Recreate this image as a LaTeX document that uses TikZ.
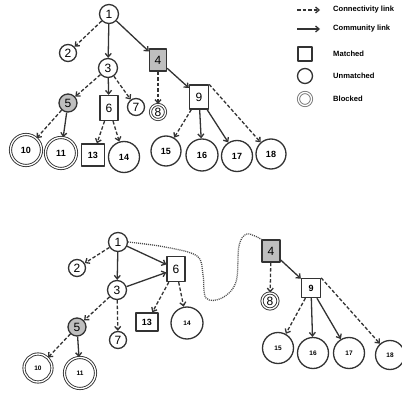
\documentclass[tikz,border=0pt]{standalone}
\usepackage{fontspec}
\setmainfont{Liberation Sans}
\usetikzlibrary{arrows.meta}

\tikzset{
  unm/.style={circle, draw=black!80, line width=1.3pt, inner sep=0pt, font=\fontsize{12}{12}\selectfont},
  mat/.style={rectangle, draw=black!80, line width=1.3pt, inner sep=0pt, font=\fontsize{12}{12}\selectfont},
  blk/.style={unm, line width=0.9pt, double, double distance=1.3pt},
  grey/.style={fill=black!25},
  num/.style={font=\fontsize{9}{9}\selectfont\bfseries},
  small/.style={font=\fontsize{6.5}{6.5}\selectfont\bfseries},
  conn/.style={draw=black!80, line width=1.3pt, dash pattern=on 3.5pt off 2pt, -{Straight Barb[length=3.5pt,width=6pt]}},
  comm/.style={draw=black!80, line width=1.3pt, -{Straight Barb[length=3.5pt,width=6pt]}},
  dotlink/.style={draw=black!70, line width=1.3pt, dash pattern=on 1pt off 1pt},
  legtext/.style={anchor=west, inner sep=0pt, font=\fontsize{7.6}{7.6}\selectfont\bfseries}
}

\begin{document}
\begin{tikzpicture}[x=1pt, y=-1pt, line join=round]
  \useasboundingbox (0,0) rectangle (402,393);

  % Legend
  \coordinate (la) at (297,10);
  \coordinate (lb) at (320,10);
  \coordinate (lc) at (297,29);
  \coordinate (ld) at (320,29);
  \draw[conn] (la) -- (lb);
  \draw[comm] (lc) -- (ld);
  \node (lmat) [mat, minimum width=14, minimum height=14] at (305,54) {};
  \node (lunm) [unm, minimum size=15] at (305,76) {};
  \node (lblk) [blk, minimum size=13, draw=black!55] at (305,99) {};
  \node (tconn) [legtext] at (333,10) {Connectivity link};
  \node (tcomm) [legtext] at (333,29) {Community link};
  \node (tmat) [legtext] at (333,54) {Matched};
  \node (tunm) [legtext] at (333,76) {Unmatched};
  \node (tblk) [legtext] at (333,99) {Blocked};

  % Upper tree: nodes
  \node (t1) [unm, minimum size=19] at (109,14) {1};
  \node (t2) [unm, minimum size=17] at (68,53) {2};
  \node (t3) [unm, minimum size=19] at (108,68) {3};
  \node (t4) [mat, grey, minimum width=17, minimum height=22] at (158,60) {4};
  \node (t5) [unm, grey, minimum size=18] at (68,103) {5};
  \node (t6) [mat, minimum width=18, minimum height=25] at (109,108) {6};
  \node (t7) [unm, minimum size=17] at (136,107) {7};
  \node (t8) [blk, minimum size=15] at (158,112) {8};
  \node (t9) [mat, minimum width=19, minimum height=24] at (199,97) {9};
  \node (t10) [blk, num, minimum size=31] at (26,150) {10};
  \node (t11) [blk, num, minimum size=31] at (61,153) {11};
  \node (t13) [mat, num, minimum width=23, minimum height=22] at (93,155) {13};
  \node (t14) [unm, num, minimum size=31] at (124,157) {14};
  \node (t15) [unm, num, minimum size=30] at (166,151) {15};
  \node (t16) [unm, num, minimum size=32] at (202,155) {16};
  \node (t17) [unm, num, minimum size=31] at (237,156) {17};
  \node (t18) [unm, num, minimum size=30] at (271,154) {18};

  % Upper tree: edges
  \draw[conn] (t1) -- (t2);
  \draw[comm] (t1) -- (t3);
  \draw[comm] (t1) -- (t4);
  \draw[conn] (t3) -- (t5);
  \draw[comm] (t3) -- (t6);
  \draw[conn] (t3) -- (t7);
  \draw[conn] (t4) -- (t8);
  \draw[comm] (t4) -- (t9);
  \draw[conn] (t5) -- (t10);
  \draw[comm] (t5) -- (t11);
  \draw[conn] (t6) -- (t13);
  \draw[conn] (t6) -- (t14);
  \draw[conn] (t9) -- (t15);
  \draw[comm] (t9) -- (t16);
  \draw[comm] (t9) -- (t17);
  \draw[conn] (t9.north east) -- (t18);

  % Lower graph: nodes
  \node (b1) [unm, minimum size=19] at (118,242) {1};
  \node (b2) [unm, minimum size=17] at (77,268) {2};
  \node (b3) [unm, minimum size=19] at (117,290) {3};
  \node (b6) [mat, minimum width=18, minimum height=25] at (176,269) {6};
  \node (b13) [mat, num, minimum width=22, minimum height=18] at (147,322) {13};
  \node (b14) [unm, small, minimum size=32] at (187,323) {14};
  \node (b5) [unm, grey, minimum size=18] at (77,327) {5};
  \node (b7) [unm, minimum size=17] at (118,340) {7};
  \node (b10) [blk, small, minimum size=28] at (38,368) {10};
  \node (b11) [blk, small, minimum size=31] at (80,373) {11};
  \node (b4) [mat, grey, minimum width=18, minimum height=22] at (271,251) {4};
  \node (b8) [blk, minimum size=16] at (270,301) {8};
  \node (b9) [mat, font=\fontsize{9}{9}\selectfont\bfseries, minimum width=19, minimum height=19] at (311,288) {9};
  \node (b15) [unm, small, minimum size=31] at (278,348) {15};
  \node (b16) [unm, small, minimum size=31] at (313,353) {16};
  \node (b17) [unm, small, minimum size=31] at (349,353) {17};
  \node (b18) [unm, small, minimum size=29] at (390,355) {18};

  % Lower graph: edges
  \draw[conn] (b1) -- (b2);
  \draw[comm] (b1) -- (b3);
  \draw[comm] (b1) -- (b6);
  \draw[comm] (b3) -- (b6);
  \draw[conn] (b3) -- (b5);
  \draw[conn] (b3) -- (b7);
  \draw[conn] (b5) -- (b10);
  \draw[comm] (b5) -- (b11);
  \draw[conn] (b6) -- (b13);
  \draw[conn] (b6) -- (b14);
  \draw[conn] (b4) -- (b8);
  \draw[comm] (b4) -- (b9);
  \draw[conn] (b9) -- (b15);
  \draw[comm] (b9) -- (b16);
  \draw[comm] (b9) -- (b17);
  \draw[conn] (b9.north east) -- (b18);

  % dotted link between the two parts
  \draw[dotlink] plot[smooth, tension=0.6] coordinates {(b1.east) (165,247) (197,256) (203,275) (206,298) (222,298) (236,282) (239,246) (247,234) (b4.north west)};
\end{tikzpicture}
\end{document}
